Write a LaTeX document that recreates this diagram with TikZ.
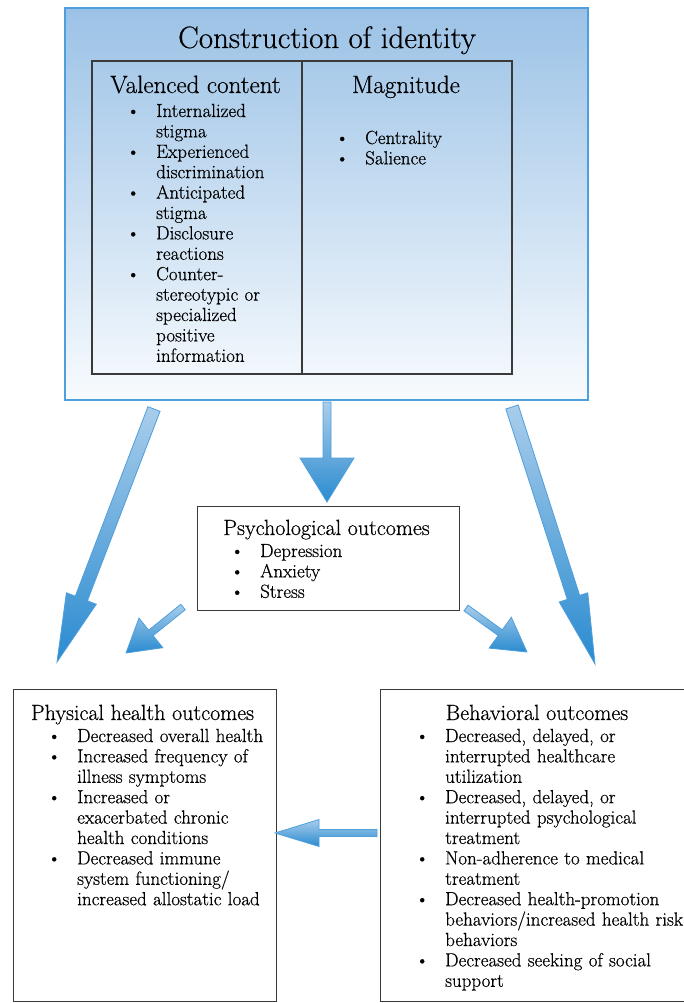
\documentclass[tikz,border=0pt]{standalone}
\usepackage{fontspec}
\setmainfont{Latin Modern Roman}[FakeBold=0.5]
\usetikzlibrary{calc}

\definecolor{boxblue}{HTML}{9BC2E6}
\definecolor{boxwhite}{HTML}{F8FBFE}
\definecolor{edgeblue}{HTML}{4F9FDC}
\definecolor{arrowlight}{HTML}{A9CDEB}
\definecolor{arrowdark}{HTML}{2A8BD0}
\definecolor{linegray}{HTML}{3A3A3A}

% bullet hung 23pt left of the item text
\newcommand{\bul}{\leavevmode\llap{\makebox[0pt]{\textbullet}\hspace{23pt}}}
% block arrow: [style]{tail}{tip}{shaft half}{head half}{head length}
\newcommand{\blockarrow}[6][]{%
  \coordinate (hb) at ($(#3)!#6!(#2)$);
  \draw[arrowfill,#1] ($(#2)!#4!90:(#3)$) -- ($(hb)!#4!90:(#3)$) -- ($(hb)!#5!90:(#3)$)
    -- (#3) -- ($(hb)!#5!-90:(#3)$) -- ($(hb)!#4!-90:(#3)$) -- ($(#2)!#4!-90:(#3)$) -- cycle;}

\begin{document}
\begin{tikzpicture}[x=1pt, y=-1pt,
  box/.style={draw=linegray, line width=1.1pt, inner sep=0pt},
  head/.style={anchor=base, inner sep=0pt, font=\fontsize{22}{26}\selectfont},
  list/.style={anchor=base west, inner sep=0pt, text width=#1, align=left,
    font=\fontsize{19}{20.4}\selectfont},
  list/.default=260pt,
  arrowfill/.style={draw=edgeblue, line width=0.8pt, top color=arrowlight, bottom color=arrowdark}]

  \fill[white] (0,0) rectangle (684,1003);
  \useasboundingbox (0,0) rectangle (684,1003);

  % construction of identity
  \node[draw=edgeblue, line width=2.2pt, top color=boxblue, bottom color=boxwhite,
    minimum width=523pt, minimum height=392pt, inner sep=0pt] (identity) at (326.5,204) {};
  \node[box, minimum width=210pt, minimum height=313pt] (valenced) at (197,217.5) {};
  \node[box, minimum width=210pt, minimum height=313pt] (magnitude) at (407,217.5) {};

  \node[head, font=\fontsize{31}{34}\selectfont] (title) at (327,48) {Construction of identity};
  \node[head, font=\fontsize{25}{28}\selectfont] (valhead) at (195.5,93) {Valenced content};
  \node[head, font=\fontsize{25}{28}\selectfont] (maghead) at (406,93) {Magnitude};

  \node[list=140pt] (vallist) at (156,117) {%
    \bul Internalized\\stigma\par
    \bul Experienced\\discrimination\par
    \bul Anticipated\\stigma\par
    \bul Disclosure\\reactions\par
    \bul Counter-\\stereotypic or\\specialized\\positive\\information};
  \node[list=140pt] (maglist) at (365,144) {%
    \bul Centrality\par
    \bul Salience};

  % psychological outcomes
  \node[box, line width=1pt, minimum width=262pt, minimum height=104pt] (psych) at (328,558) {};
  \node[head] (psyhead) at (326.5,535) {Psychological outcomes};
  \node[list=180pt] (psylist) at (260,557) {%
    \bul Depression\par
    \bul Anxiety\par
    \bul Stress};

  % physical health outcomes
  \node[box, line width=1pt, minimum width=263pt, minimum height=312pt] (physical) at (144.5,845) {};
  \node[head] (phyhead) at (142.5,720) {Physical health outcomes};
  \node[list] (phylist) at (77,742) {%
    \bul Decreased overall health\par
    \bul Increased frequency of\\illness symptoms\par
    \bul Increased or\\exacerbated chronic\\health conditions\par
    \bul Decreased immune\\system functioning/\\increased allostatic load};

  % behavioral outcomes
  \node[box, line width=1pt, minimum width=320pt, minimum height=312pt] (behavioral) at (540,845) {};
  \node[head] (behhead) at (537,720) {Behavioral outcomes};
  \node[list=320pt] (behlist) at (445,742) {%
    \bul Decreased, delayed, or\\interrupted healthcare\\utilization\par
    \bul Decreased, delayed, or\\interrupted psychological\\treatment\par
    \bul Non-adherence to medical\\treatment\par
    \bul Decreased health-promotion\\behaviors/increased health risk\\behaviors\par
    \bul Decreased seeking of social\\support};

  % arrow ends
  \coordinate (L1) at (154,409);
  \coordinate (L2) at (57,662);
  \coordinate (C1) at (327,402);
  \coordinate (C2) at (327,502);
  \coordinate (R1) at (512,407);
  \coordinate (R2) at (595,664);
  \coordinate (SL1) at (183,607);
  \coordinate (SL2) at (126,653);
  \coordinate (SR1) at (466,608);
  \coordinate (SR2) at (527,652);
  \coordinate (H1) at (377,833);
  \coordinate (H2) at (275,833);

  \blockarrow{L1}{L2}{6.5pt}{16pt}{68pt}
  \blockarrow{C1}{C2}{4pt}{27pt}{44pt}
  \blockarrow{R1}{R2}{6.5pt}{15pt}{70pt}
  \blockarrow{SL1}{SL2}{3.5pt}{19pt}{32pt}
  \blockarrow{SR1}{SR2}{3.5pt}{19pt}{33pt}
  \blockarrow{H1}{H2}{3.5pt}{13.5pt}{44pt}
\end{tikzpicture}
\end{document}
